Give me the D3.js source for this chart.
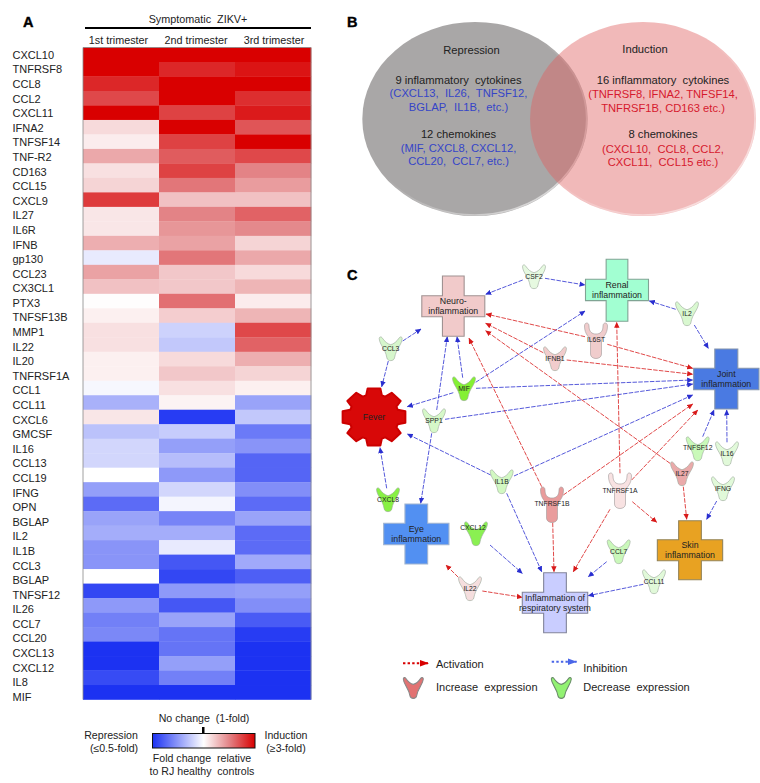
<!DOCTYPE html>
<html><head><meta charset="utf-8">
<script src="https://cdnjs.cloudflare.com/ajax/libs/d3/7.8.5/d3.min.js"></script>
<style>
html,body{margin:0;padding:0;background:#fff}
svg{display:block}
text{font-family:"Liberation Sans",Arial,sans-serif;fill:#222;white-space:pre}
</style></head><body>
<svg id="c" width="760" height="783"></svg>
<script>
// ---------- Panel A data ----------
const trimesters = ["1st trimester","2nd trimester","3rd trimester"];
const analytes = ["CXCL10","TNFRSF8","CCL8","CCL2","CXCL11","IFNA2","TNFSF14","TNF-R2","CD163","CCL15","CXCL9","IL27","IL6R","IFNB","gp130","CCL23","CX3CL1","PTX3","TNFSF13B","MMP1","IL22","IL20","TNFRSF1A","CCL1","CCL11","CXCL6","GMCSF","IL16","CCL13","CCL19","IFNG","OPN","BGLAP","IL2","IL1B","CCL3","BGLAP","TNFSF12","IL26","CCL7","CCL20","CXCL13","CXCL12","IL8","MIF"];
const firstTrimester  = [3,3,2.7,2.45,3,1.3,1.15,1.7,1.25,1.35,2.55,1.2,1.2,1.65,0.95,1.75,1.5,1.02,1.12,1.25,1.25,1.12,1.12,0.98,0.81,1.2,0.85,0.9,0.9,1,0.765,0.64,0.775,0.8,0.74,0.74,1,0.55,0.75,0.69,0.71,0.5,0.5,0.56,0.5];
const secondTrimester = [3,2.7,3,3,2.5,3,2.5,2.3,2.5,2.1,1.5,2,1.85,1.75,2.1,1.45,1.45,2.15,1.4,0.89,0.865,1.3,1.45,1.25,1.1,0.525,0.875,0.765,0.84,0.75,0.9,0.975,0.7,0.8,0.95,0.59,0.55,0.75,0.59,0.775,0.66,0.66,0.765,0.69,0.5];
const thirdTrimester  = [3,2.85,3,2.65,2.8,2.35,3,2.45,2,1.8,1.5,2.25,1.95,1.35,1.7,1.3,1.6,1.15,1.6,2.45,2.25,1.65,1.35,1.12,0.775,0.865,0.675,0.74,0.625,0.625,0.725,0.64,0.775,0.64,0.64,0.79,0.61,0.765,0.725,0.6,0.525,0.5,0.5,0.5,0.5];
const foldDomain = [0.5,1,2,3];
const foldColours = ["#1c32f2","#ffffff","#e38386","#d90000"];

// ---------- Panel B data ----------
const repressionLines = [["Repression","#222"],["9 inflammatory  cytokines","#222"],["(CXCL13,  IL26,  TNFSF12,","b"],["BGLAP,  IL1B,  etc.)","b"],["12 chemokines","#222"],["(MIF, CXCL8, CXCL12,","b"],["CCL20,  CCL7, etc.)","b"]];
const inductionLines = [["Induction","#222"],["16 inflammatory  cytokines","#222"],["(TNFRSF8, IFNA2, TNFSF14,","r"],["TNFRSF1B, CD163 etc.)","r"],["8 chemokines","#222"],["(CXCL10,  CCL8, CCL2,","r"],["CXCL11,  CCL15 etc.)","r"]];

// ---------- Panel C data ----------
const ligandNames = ["CSF2","CCL3","MIF","SPP1","CXCL8","IL1B","IL2","TNFSF12","IL16","IFNG","IFNB1","IL27","IL22","CXCL12","CCL7","CCL11"];
const ligandFills = ["#e6f9e0","#d6f6cc","#84f034","#d6f8c8","#88f044","#d2f8c2","#d9f8d0","#c9f9b9","#e1f9d9","#e1f9d9","#f1cccc","#eaaaaa","#f5dede","#8af052","#caf8ba","#e1f9d9"];
const receptorNames = ["IL6ST","TNFRSF1B","TNFRSF1A"];
const receptorFills = ["#f0cccc","#e99c9c","#f8e2e2"];
const processNames = [["Neuro-","inflammation"],["Renal","inflammation"],["Joint","inflammation"],["Eye","inflammation"],["Skin","inflammation"],["Inflammation of","respiratory system"]];
const processFills = ["#f1caca","#a2ffd2","#4a7ae2","#5290f2","#e8a222","#c9cdff"];
const processStrokes = ["#a09292","#80a494","#8494ac","#a0b4d0","#948458","#82849a"];
const inhibitionEdges = [["CSF2","Neuro"],["CSF2","Renal"],["IL2","Renal"],["IL2","Joint"],["CCL3","Neuro"],["CCL3","Fever"],["MIF","Neuro"],["SPP1","Neuro"],["MIF","Renal"],["MIF","Joint"],["MIF","Fever"],["SPP1","Joint"],["SPP1","Eye"],["IL1B","Fever"],["IL1B","Joint"],["CXCL8","Fever"],["IL1B","Resp"],["CXCL12","Resp"],["CCL7","Resp"],["CCL11","Resp"],["TNFSF12","Joint"],["IL16","Joint"],["IFNG","Skin"]];
const activationEdges = [["IL6ST","Neuro"],["IL6ST","Joint"],["IFNB1","Neuro"],["IFNB1","Joint"],["IL27","Neuro"],["TNFRSF1B","Neuro"],["TNFRSF1A","Renal"],["TNFRSF1B","Joint"],["TNFRSF1A","Joint"],["IL27","Skin"],["TNFRSF1A","Skin"],["TNFRSF1A","Resp"],["TNFRSF1B","Resp"],["IL22","Eye"],["IL22","Resp"]];

// ---------- Layout of the network diagram (not data) ----------
const ligandLayout = {CSF2:[534,265,277],CCL3:[390.7,337,349],MIF:[464,377,389],SPP1:[434,409,421],CXCL8:[388,488,500],IL1B:[501.7,470,482],IL2:[687,302,313.7],TNFSF12:[697.7,437,448],IL16:[727,442,454],IFNG:[723,477,489],IFNB1:[555,347,358.7],IL27:[682,462,474],IL22:[470,577,589],CXCL12:[476,522,528],CCL7:[618.7,540,552],CCL11:[654,570,582]};
const labelDx = {CXCL12:-3};
const receptorLayout = {IL6ST:[596,323,340],TNFRSF1B:[552,487,504],TNFRSF1A:[620,473,491]};
const processLayout = [[453.3,276,63,60.3,21.7,21,301,311,295.7],[617,259.3,63,62,21.7,21.3,285.3,295.3,279.3],[726.3,349,65.3,60,23,21.4,374,383.7,368.3],[416.3,504,65.3,60,22.7,21.4,529.3,539,523.3],[690,520.7,65.3,59,22.7,21,545.3,555,539.7],[555,572.7,65.4,60,22.7,21,598,608,592.3]];
const blueRoutes = [[522.7,280,485.7,294.3],[545,278.3,585,285],[675.7,309.3,649.3,301],[694.3,325,708.3,348.3],[402.7,341,421,329],[388.3,361,381.7,386.7],[462.7,377.7,457,336.7],[436.7,410,447.3,336.7],[475.7,382.3,585,311],[476,388.3,692.7,380],[453.3,392.7,407.3,406.7],[445,419.3,692.7,384],[431.7,433.3,420.7,503.3],[490.7,475,407.3,434],[514,476,692.7,395],[386.7,488.3,380,447.7],[506.7,493.3,541.7,571.7],[490,545,522.3,573.3],[606.7,561.7,588.3,576.7],[643.3,584.3,588.3,595.7],[702.7,436.7,714,410],[727,442.3,726.7,410],[716.7,501,706.7,519.3]];
const redRoutes = [[585,336.7,486,314],[607.3,344.3,692.7,368.3],[543.3,352.7,485.7,323.3],[566.7,360,692.7,374.3],[670,463.3,485.7,330.7],[541.7,486.7,469,338.3],[620,473.3,616.7,322.3],[563.3,495,692.7,404],[631.7,480,697.7,410],[683.3,486.7,686.7,519.3],[632.3,501.7,656.7,522.3],[610,509.3,573.3,571.7],[552.7,522.7,554,571.7],[458.3,577.3,446,565],[482.3,591,522.3,597.3]];

// ---------- Drawing ----------
const svg = d3.select("#c");
const defs = svg.append("defs");
const blue = "#2a2fd0", red = "#d81a1a";
function marker(id,col){
  defs.append("marker").attr("id",id).attr("viewBox","0 0 6 6").attr("refX",5.5).attr("refY",3)
    .attr("markerWidth",6).attr("markerHeight",6).attr("markerUnits","userSpaceOnUse").attr("orient","auto")
    .append("path").attr("d","M0,0.3L6,3L0,5.7Z").attr("fill",col);
}
marker("mb",blue); marker("mr",red);
const txt = (g,x,y,s,size,anchor,extra)=>{
  const t=g.append("text").attr("x",x).attr("y",y).attr("dy","0.35em").attr("font-size",size)
    .attr("text-anchor",anchor||"middle").text(s);
  if(extra) for(const k in extra) t.attr(k,extra[k]);
  return t;
};
// panel letters
[["A",23,22],["B",347,22],["C",347,275]].forEach(d=>txt(svg,d[1],d[2],d[0],14.5,"start",{"font-weight":"bold",style:"fill:#000;stroke:#000;stroke-width:.4"}));

// Panel A
const A = svg.append("g");
const colour = d3.scaleLinear().domain(foldDomain).range(foldColours).clamp(true);
const x = d3.scaleBand().domain(d3.range(3)).range([83,311]);
const y = d3.scaleBand().domain(d3.range(analytes.length)).range([47.5,699.5]);
const labelY = d3.scalePoint().domain(d3.range(analytes.length)).range([55,697]);
[firstTrimester,secondTrimester,thirdTrimester].forEach((vals,c)=>{
  A.append("g").selectAll("rect").data(vals).join("rect")
    .attr("x",x(c)).attr("width",x.bandwidth()+.3)
    .attr("y",(d,i)=>y(i)).attr("height",y.bandwidth()+.3)
    .attr("fill",d=>colour(d));
});
A.append("path").attr("d",`M83,699.5V47.5H311V699.5`).attr("fill","none").attr("stroke","#888").attr("stroke-width",.8);
A.selectAll(".lab").data(analytes).join("text").attr("class","lab")
  .attr("x",12.5).attr("y",(d,i)=>labelY(i)).attr("dy","0.35em").attr("font-size",11).text(d=>d);
trimesters.forEach((t,i)=>txt(A,[118.5,196,274][i],40.5,t,10.8));
txt(A,198,19.5,"Symptomatic  ZIKV+",10.8);
A.append("line").attr("x1",85).attr("x2",311).attr("y1",28).attr("y2",28).attr("stroke","#000").attr("stroke-width",2);
// colour legend
const grad = defs.append("linearGradient").attr("id","fold");
const legendPos = d3.scaleLinear().domain([0.5,1,3]).range([0,50,100]);
foldDomain.forEach(v=>grad.append("stop").attr("offset",legendPos(v)+"%").attr("stop-color",colour(v)));
A.append("rect").attr("x",152.5).attr("y",733.5).attr("width",102.5).attr("height",14.5).attr("fill","url(#fold)").attr("stroke","#111").attr("stroke-width",1);
A.append("rect").attr("x",202).attr("y",727).attr("width",2.5).attr("height",6).attr("fill","#000");
txt(A,204,718,"No change  (1-fold)",10.6);
txt(A,111,735.5,"Repression",10.6);
txt(A,114,748.5,"(≤0.5-fold)",10.6);
txt(A,286,735.5,"Induction",10.6);
txt(A,286,748.5,"(≥3-fold)",10.6);
txt(A,202,758.5,"Fold change  relative",10.6);
txt(A,202,771,"to RJ healthy  controls",10.6);

// Panel B
const B = svg.append("g");
const rim = defs.append("linearGradient").attr("id","rim").attr("x1","0").attr("y1","0").attr("x2","1").attr("y2","1");
rim.append("stop").attr("offset","45%").attr("stop-color","#fff").attr("stop-opacity",0);
rim.append("stop").attr("offset","100%").attr("stop-color","#fff").attr("stop-opacity",.75);
B.append("ellipse").attr("cx",475).attr("cy",119).attr("rx",112.7).attr("ry",97).attr("fill","#a9a7a7");
B.append("ellipse").attr("cx",475).attr("cy",119).attr("rx",111.7).attr("ry",96).attr("fill","none").attr("stroke","url(#rim)").attr("stroke-width",1.6);
B.append("ellipse").attr("cx",643).attr("cy",119).attr("rx",113).attr("ry",97).attr("fill","rgb(222,95,95)").attr("fill-opacity",.44);
B.append("ellipse").attr("cx",643).attr("cy",119).attr("rx",112).attr("ry",96).attr("fill","none").attr("stroke","url(#rim)").attr("stroke-width",1.6);
const vennCol = {b:"#3545c8",r:"#d61a2e"};
const drawVenn=(lines,headX,cx,ys)=>lines.forEach((l,i)=>{
  txt(B,i===0?headX:cx,ys[i],l[0],11.2,"middle",{style:`fill:${vennCol[l[1]]||l[1]}`});
});
drawVenn(repressionLines,471.5,458.5,[50,80,93.5,107,134,148,161]);
drawVenn(inductionLines,645,663,[49.5,80.5,94,108,134.5,149,162]);

// Panel C edges
const C = svg.append("g");
const edgeSet=(routes,names,col,mk)=>C.append("g").selectAll("line").data(routes).join("line")
  .attr("x1",d=>d[0]).attr("y1",d=>d[1]).attr("x2",d=>d[2]).attr("y2",d=>d[3])
  .attr("stroke",col).attr("stroke-width",.8).attr("stroke-dasharray","4.5 1.3").attr("marker-end",`url(#${mk})`)
  .append("title").text((d,i)=>names[i].join(" → "));
edgeSet(blueRoutes,inhibitionEdges,blue,"mb");
edgeSet(redRoutes,activationEdges,red,"mr");

// shapes
const ligandPath = h=>{
  const k=h/23, p=d3.path(), Y=v=>v*k;
  p.moveTo(-11.5,Y(1.5)); p.bezierCurveTo(-11.5,Y(-.3),-9.5,Y(-.6),-8.7,Y(.6));
  p.bezierCurveTo(-6,Y(4.5),-3,Y(7),0,Y(7.5)); p.bezierCurveTo(3,Y(7),6,Y(4.5),8.7,Y(.6));
  p.bezierCurveTo(9.5,Y(-.6),11.5,Y(-.3),11.5,Y(1.5)); p.bezierCurveTo(11,Y(8),5.5,Y(11),3.8,Y(20.5));
  p.bezierCurveTo(3.2,Y(24),-3.2,Y(24),-3.8,Y(20.5)); p.bezierCurveTo(-5.5,Y(11),-11,Y(8),-11.5,Y(1.5));
  p.closePath(); return p.toString();
};
const receptorPath = "M-11.5,3C-11.5,-1 -7,-1 -7,3C-7,9 -4,11 0,11C4,11 7,9 7,3C7,-1 11.5,-1 11.5,3C11.5,12 6,14 5.5,18L5.5,31C5.5,37 -5.5,37 -5.5,31L-5.5,18C-6,14 -11.5,12 -11.5,3Z";
const Nodes = C.append("g");
ligandNames.forEach((n,i)=>{
  const [cx,top,ly]=ligandLayout[n];
  Nodes.append("path").attr("d",ligandPath(23.5)).attr("transform",`translate(${cx},${top})`)
    .attr("fill",ligandFills[i]).attr("stroke","#9aa89a").attr("stroke-width",.6);
  txt(Nodes,cx+(labelDx[n]||0),ly,n,6.8);
});
receptorNames.forEach((n,i)=>{
  const [cx,top,ly]=receptorLayout[n];
  Nodes.append("path").attr("d",receptorPath).attr("transform",`translate(${cx},${top})`)
    .attr("fill",receptorFills[i]).attr("stroke","#a09898").attr("stroke-width",.6);
  txt(Nodes,cx,ly,n,6.8);
});
processNames.forEach((lines,i)=>{
  const [cx,top,w,h,aw,ah,l1,l2,hy]=processLayout[i];
  const L=cx-w/2,R=cx+w/2,a=aw/2;
  const pts=[[cx-a,top],[cx+a,top],[cx+a,hy],[R,hy],[R,hy+ah],[cx+a,hy+ah],[cx+a,top+h],[cx-a,top+h],[cx-a,hy+ah],[L,hy+ah],[L,hy],[cx-a,hy]];
  Nodes.append("polygon").attr("points",pts.map(p=>p.join(",")).join(" "))
    .attr("fill",processFills[i]).attr("stroke",processStrokes[i]).attr("stroke-width",1.1);
  txt(Nodes,cx,l1,lines[0],8.8); txt(Nodes,cx,l2,lines[1],8.8);
});
// fever gear
const gearPts=[];
for(let t=0;t<8;t++){
  const ang=-Math.PI/2+t*Math.PI/4, s=.22;
  [[.76,-s-.1],[.97,-s+.02],[.97,s-.02],[.76,s+.1]].forEach(([r,da])=>{
    gearPts.push([374+33*r*Math.cos(ang+da),417+30*r*Math.sin(ang+da)]);
  });
}
Nodes.append("polygon").attr("points",gearPts.map(p=>p.join(",")).join(" "))
  .attr("fill","#d80808").attr("stroke","#cc0000").attr("stroke-width",2).attr("stroke-linejoin","round");
txt(Nodes,374,417,"Fever",8.8);

// Panel C legend
const L = svg.append("g");
L.append("line").attr("x1",403).attr("x2",428).attr("y1",663.3).attr("y2",663.3).attr("stroke","#d80000").attr("stroke-width",2).attr("stroke-dasharray","2.4 2.2");
L.append("path").attr("d","M420,660L429,663.3L420,666.6Z").attr("fill","#d80000");
L.append("line").attr("x1",551.7).attr("x2",576.7).attr("y1",661.7).attr("y2",661.7).attr("stroke","#4a66e8").attr("stroke-width",2).attr("stroke-dasharray","2.4 2.2");
L.append("path").attr("d","M568,658.5L577,661.7L568,664.9Z").attr("fill","#4a66e8");
L.append("path").attr("d",ligandPath(20.5)).attr("transform","translate(413.3,677.7) scale(.87,1)").attr("fill","#e27272").attr("stroke","#888").attr("stroke-width",1.2);
L.append("path").attr("d",ligandPath(20.5)).attr("transform","translate(561.3,677.7) scale(.87,1)").attr("fill","#92f272").attr("stroke","#6a8a6a").attr("stroke-width",1.2);
txt(L,436,664,"Activation",11,"start");
txt(L,583.3,668,"Inhibition",11,"start");
txt(L,436,687,"Increase  expression",11,"start");
txt(L,583.3,687,"Decrease  expression",11,"start");
</script>
</body></html>
